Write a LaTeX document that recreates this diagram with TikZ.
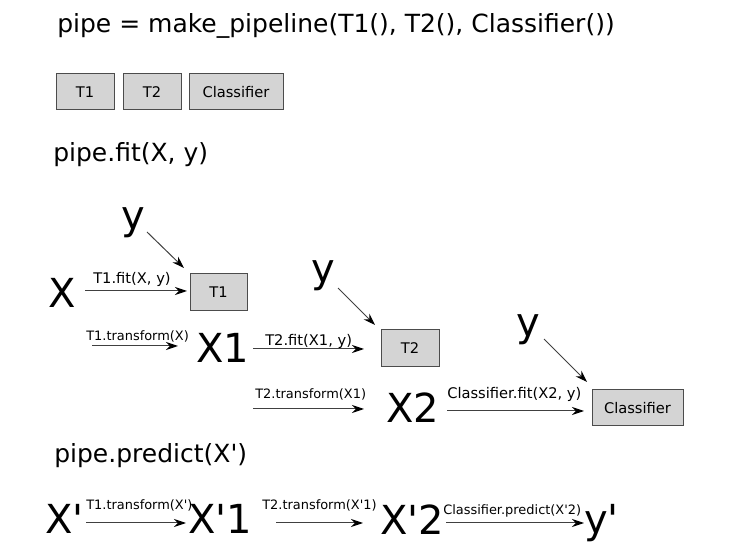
\documentclass[tikz,border=0pt]{standalone}
\usepackage{fontspec}
\setmainfont{DejaVu Sans}[Ligatures=TeXOff]
\usetikzlibrary{arrows.meta}

\tikzset{
  estbox/.style={draw=black!70, fill=black!17, line width=0.75pt, inner sep=0pt,
    font=\fontsize{11}{13}\selectfont},
  big/.style={anchor=base west, inner sep=0pt, font=\fontsize{30}{36}\selectfont},
  head/.style={anchor=base west, inner sep=0pt, font=\fontsize{18.75}{22}\selectfont},
  lab/.style={anchor=base west, inner sep=0pt, font=\fontsize{11}{13}\selectfont},
  slab/.style={anchor=base west, inner sep=0pt, font=\fontsize{9.7}{11}\selectfont},
  arr/.style={-{Stealth[length=9pt,width=6pt,black]}, line width=0.75pt, black!75}
}

\begin{document}
\begin{tikzpicture}[x=0.75pt, y=-0.75pt]
        \useasboundingbox (0,0) rectangle (743,559);
        % pipeline
        \node[head] (title) at (57,33) {pipe = make\_pipeline(T1(), T2(), Classifier())};
        \node[estbox, minimum width=43.5pt, minimum height=27pt] (b1) at (85,92) {T1};
        \node[estbox, minimum width=43.5pt, minimum height=27pt] (b2) at (152,92) {T2};
        \node[estbox, minimum width=70.5pt, minimum height=27pt] (b3) at (236,92) {Classifier};
        % fit
        \node[head] (fit) at (53,162) {pipe.fit(X, y)};
        \node[big] (y1) at (121,230) {y};
        \node[big] (X) at (48,308) {X};
        \node[estbox, minimum width=42.75pt, minimum height=27.75pt] (t1) at (218.5,292.5) {T1};
        \coordinate (ay1s) at (147,232);
        \coordinate (ay1e) at (184,268);
        \draw[arr] (ay1s)--(ay1e);
        \coordinate (axs) at (85,291);
        \coordinate (axe) at (187,291);
        \draw[arr] (axs)--(axe);
        \node[lab] (lfit1) at (93,284) {T1.fit(X, y)};
        \coordinate (at1s) at (92,346);
        \coordinate (at1e) at (178,346);
        \draw[arr] (at1s)--(at1e);
        \node[slab] (ltr1) at (86,341) {T1.transform(X)};
        \node[big] (X1) at (196,363) {X1};
        \coordinate (ax1s) at (253,349);
        \coordinate (ax1e) at (364,349);
        \draw[arr] (ax1s)--(ax1e);
        \node[lab] (lfit2) at (265,346) {T2.fit(X1, y)};
        \node[big] (y2) at (311,283) {y};
        \coordinate (ay2s) at (338,288);
        \coordinate (ay2e) at (375,325);
        \draw[arr] (ay2s)--(ay2e);
        \node[estbox, minimum width=43.5pt, minimum height=27.75pt] (t2) at (410,348.5) {T2};
        \coordinate (at2s) at (253,409);
        \coordinate (at2e) at (364,409);
        \draw[arr] (at2s)--(at2e);
        \node[slab] (ltr2) at (255,399) {T2.transform(X1)};
        \node[big] (X2) at (386,423) {X2};
        \coordinate (ax2s) at (447,411);
        \coordinate (ax2e) at (584,411);
        \draw[arr] (ax2s)--(ax2e);
        \node[lab] (lfit3) at (447,399) {Classifier.fit(X2, y)};
        \node[big] (y3) at (516,337) {y};
        \coordinate (ay3s) at (544,339);
        \coordinate (ay3e) at (587,382);
        \draw[arr] (ay3s)--(ay3e);
        \node[estbox, minimum width=68.25pt, minimum height=27pt] (t3) at (637.5,408) {Classifier};
        % predict
        \node[head] (pred) at (54,463) {pipe.predict(X')};
        \node[big] (Xp) at (45,534) {X'};
        \coordinate (ap1s) at (86,523);
        \coordinate (ap1e) at (186,523);
        \draw[arr] (ap1s)--(ap1e);
        \node[slab] (lp1) at (86,510) {T1.transform(X')};
        \node[big] (Xp1) at (188,534) {X'1};
        \coordinate (ap2s) at (276,523);
        \coordinate (ap2e) at (363,523);
        \draw[arr] (ap2s)--(ap2e);
        \node[slab] (lp2) at (262,510) {T2.transform(X'1)};
        \node[big] (Xp2) at (380,535) {X'2};
        \coordinate (ap3s) at (446,523);
        \coordinate (ap3e) at (584,523);
        \draw[arr] (ap3s)--(ap3e);
        \node[slab] (lp3) at (443,515) {Classifier.predict(X'2)};
        \node[big] (yp) at (584,533) {y'};
\end{tikzpicture}
\end{document}
